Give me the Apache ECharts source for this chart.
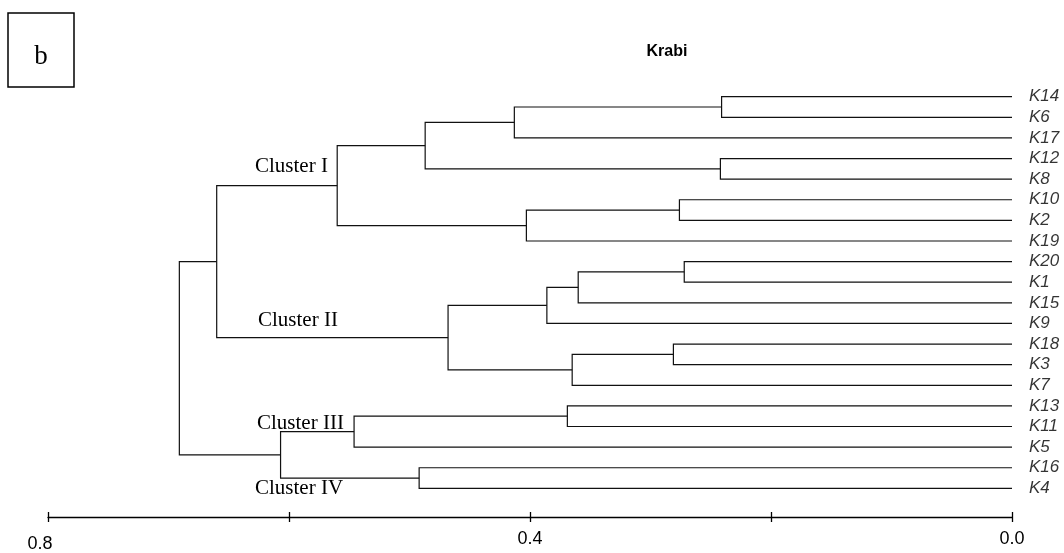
<!DOCTYPE html>
<html>
<head>
<meta charset="utf-8">
<script src="https://cdn.jsdelivr.net/npm/echarts@6/dist/echarts.min.js"></script>
<style>html,body{margin:0;padding:0;background:#fff;}#c{width:1064px;height:553px;}</style>
</head>
<body>
<div id="c"></div>
<script>
// Leaves, top to bottom
const leaves = ['K14','K6','K17','K12','K8','K10','K2','K19','K20','K1','K15','K9','K18','K3','K7','K13','K11','K5','K16','K4'];
// Merges: [childA, childB, distance]; merge i is referred to as 'm'+i
const merges = [
  ['K14','K6',0.241],  // m0
  ['m0','K17',0.413],  // m1
  ['K12','K8',0.242],  // m2
  ['m1','m2',0.487],   // m3
  ['K10','K2',0.276],  // m4
  ['m4','K19',0.403],  // m5
  ['m3','m5',0.560],   // m6 Cluster I
  ['K20','K1',0.272],  // m7
  ['m7','K15',0.360],  // m8
  ['m8','K9',0.386],   // m9
  ['K18','K3',0.281],  // m10
  ['m10','K7',0.365],  // m11
  ['m9','m11',0.468],  // m12 Cluster II
  ['m6','m12',0.660],  // m13
  ['K13','K11',0.369], // m14
  ['m14','K5',0.546],  // m15 Cluster III
  ['K16','K4',0.492],  // m16 Cluster IV
  ['m15','m16',0.607], // m17
  ['m13','m17',0.691]  // m18 root
];
const axisTicks = [0.8, 0.6, 0.4, 0.2, 0.0];
const axisLabelsShown = ['0.8','0.4','0.0'];
const clusterNames = ['Cluster I','Cluster II','Cluster III','Cluster IV'];
const title = 'Krabi';
const panelLetter = 'b';

// Build node positions from the tree
const nodes = {};
leaves.forEach((n, i) => { nodes[n] = {h: 0, y: i}; });
const brackets = [];
merges.forEach((m, i) => {
  const a = nodes[m[0]], b = nodes[m[1]];
  nodes['m' + i] = {h: m[2], y: (a.y + b.y) / 2};
  brackets.push([a.h, a.y, m[2], b.y, b.h]);
});

const chart = echarts.init(document.getElementById('c'));
const yMax = 20.39;

chart.setOption({
  animation: false,
  backgroundColor: '#fff',
  title: {
    text: title, left: 662, top: 39, textAlign: 'center',
    textStyle: {fontFamily: 'Liberation Sans, Arial', fontWeight: 'bold', fontSize: 16, color: '#000'}
  },
  grid: {left: 48, right: 52, top: 96.7, bottom: 36},
  xAxis: [{
    type: 'value', min: 0, max: 0.8, interval: 0.2, inverse: true, position: 'bottom',
    splitLine: {show: false},
    axisLine: {show: true, onZero: false, lineStyle: {color: '#000', width: 1.3}},
    axisTick: {show: true, inside: true, length: 5, lineStyle: {color: '#000', width: 1.3}},
    axisLabel: {
      show: true, margin: 13, fontFamily: 'Liberation Sans, Arial', fontSize: 18, color: '#000',
      formatter: v => {
        const s = v.toFixed(1);
        if (axisLabelsShown.indexOf(s) < 0) return '';
        return s === '0.8' ? '{a|' + s + '}' : s;
      },
      rich: {a: {fontFamily: 'Liberation Sans, Arial', fontSize: 18, color: '#000', padding: [5, 16, 0, 0]}}
    }
  }, {
    type: 'value', min: 0, max: 0.8, interval: 0.2, inverse: true, position: 'bottom',
    splitLine: {show: false},
    axisLine: {show: false, onZero: false},
    axisTick: {show: true, inside: false, length: 5, lineStyle: {color: '#000', width: 1.3}},
    axisLabel: {show: false}
  }],
  yAxis: {type: 'value', min: 0, max: yMax, inverse: true, show: false},
  series: [{
    type: 'custom',
    xAxisIndex: 0,
    data: brackets,
    renderItem: (params, api) => {
      const p1 = api.coord([api.value(0), api.value(1)]);
      const p2 = api.coord([api.value(2), api.value(1)]);
      const p3 = api.coord([api.value(2), api.value(3)]);
      const p4 = api.coord([api.value(4), api.value(3)]);
      return {
        type: 'polyline',
        shape: {points: [p1, p2, p3, p4]},
        style: {stroke: '#111', lineWidth: 1.2, fill: null}
      };
    },
    silent: true
  }, {
    type: 'scatter',
    xAxisIndex: 0,
    symbolSize: 0,
    data: leaves.map((n, i) => ({name: n, value: [0, i]})),
    label: {
      show: true, position: 'right', distance: 17, formatter: '{b}',
      fontFamily: 'Liberation Sans, Arial', fontStyle: 'italic', fontSize: 17, color: '#000'
    },
    silent: true
  }],
  graphic: [
    {type: 'rect', shape: {x: 8, y: 13, width: 66, height: 74}, style: {fill: '#fff', stroke: '#000', lineWidth: 1.5}},
    {type: 'text', x: 41, y: 57, style: {text: panelLetter, font: '27px "Liberation Serif", "Times New Roman", serif', fill: '#000', textAlign: 'center', textVerticalAlign: 'middle'}},
    {type: 'text', x: 255, y: 166, style: {text: clusterNames[0], font: '21px "Liberation Serif", "Times New Roman", serif', fill: '#000', textVerticalAlign: 'middle'}},
    {type: 'text', x: 258, y: 320, style: {text: clusterNames[1], font: '21px "Liberation Serif", "Times New Roman", serif', fill: '#000', textVerticalAlign: 'middle'}},
    {type: 'text', x: 257, y: 423, style: {text: clusterNames[2], font: '21px "Liberation Serif", "Times New Roman", serif', fill: '#000', textVerticalAlign: 'middle'}},
    {type: 'text', x: 255, y: 488, style: {text: clusterNames[3], font: '21px "Liberation Serif", "Times New Roman", serif', fill: '#000', textVerticalAlign: 'middle'}}
  ]
});
</script>
</body>
</html>
